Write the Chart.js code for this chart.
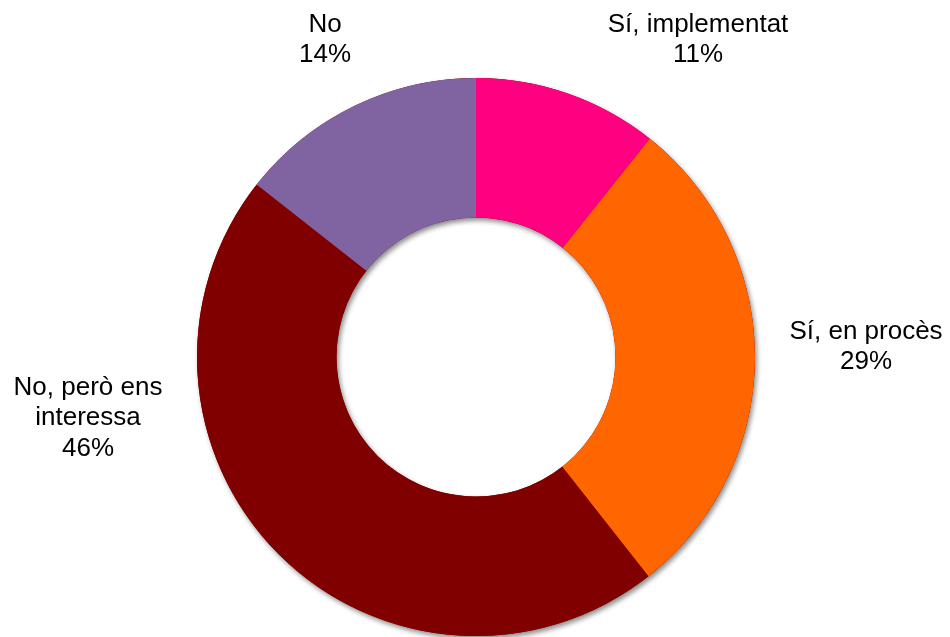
<!DOCTYPE html>
<html>
<head>
<meta charset="utf-8">
<script src="https://cdn.jsdelivr.net/npm/chart.js@4"></script>
<style>
  html, body { margin: 0; padding: 0; background: #fff; }
  #wrap { width: 950px; height: 637px; }
</style>
</head>
<body>
<div id="wrap"><canvas id="answerChart"></canvas></div>
<script>
const categories = ['Sí, implementat', 'Sí, en procès', 'No, però ens interessa', 'No'];
const labelLines = [['Sí, implementat'], ['Sí, en procès'], ['No, però ens', 'interessa'], ['No']];
const shares = [10.7, 28.7, 46.2, 14.4];
const sliceColors = ['#FF0080', '#FF6600', '#800000', '#8064A2'];

// label anchor offsets from the doughnut centre (Excel's "best fit" placement)
const labelOffsets = [[222, -317], [390, -10], [-388, 61], [-151, -317]];

// soft drop shadow under the whole ring, drawn once so slices don't shade each other
const ringShadow = {
    id: 'ringShadow',
    beforeDatasetsDraw(chart) {
        const arc = chart.getDatasetMeta(0).data[0];
        const ctx = chart.ctx;
        ctx.save();
        ctx.shadowColor = 'rgba(0,0,0,0.45)';
        ctx.shadowBlur = 5;
        ctx.shadowOffsetX = 2;
        ctx.shadowOffsetY = 3;
        ctx.fillStyle = '#800000';
        ctx.beginPath();
        ctx.arc(arc.x, arc.y, arc.outerRadius, 0, Math.PI * 2);
        ctx.arc(arc.x, arc.y, arc.innerRadius, 0, Math.PI * 2, true);
        ctx.fill();
        ctx.restore();
    }
};

const outsideLabels = {
    id: 'outsideLabels',
    afterDatasetsDraw(chart) {
        const ctx = chart.ctx;
        const arc = chart.getDatasetMeta(0).data[0];
        const cx = arc.x, cy = arc.y;
        const lineH = 30.5;
        ctx.save();
        ctx.font = '26px "Liberation Sans", Arial, sans-serif';
        ctx.fillStyle = '#000';
        ctx.textAlign = 'center';
        ctx.textBaseline = 'middle';
        shares.forEach((v, i) => {
            const lines = labelLines[i].concat([Math.round(v) + '%']);
            const x = cx + labelOffsets[i][0];
            const top = cy + labelOffsets[i][1] - (lines.length - 1) * lineH / 2;
            lines.forEach((t, k) => ctx.fillText(t, x, top + k * lineH));
        });
        ctx.restore();
    }
};

const ctx = document.getElementById('answerChart').getContext('2d');
new Chart(ctx, {
    type: 'doughnut',
    data: {
        labels: categories,
        datasets: [{
            data: shares,
            backgroundColor: sliceColors,
            borderWidth: 0
        }]
    },
    options: {
        responsive: true,
        maintainAspectRatio: false,
        animation: false,
        cutout: '50%',
        layout: { padding: { top: 78, bottom: 1, left: 197, right: 195 } },
        plugins: {
            legend: { display: false },
            tooltip: { enabled: false }
        }
    },
    plugins: [ringShadow, outsideLabels]
});
</script>
</body>
</html>
